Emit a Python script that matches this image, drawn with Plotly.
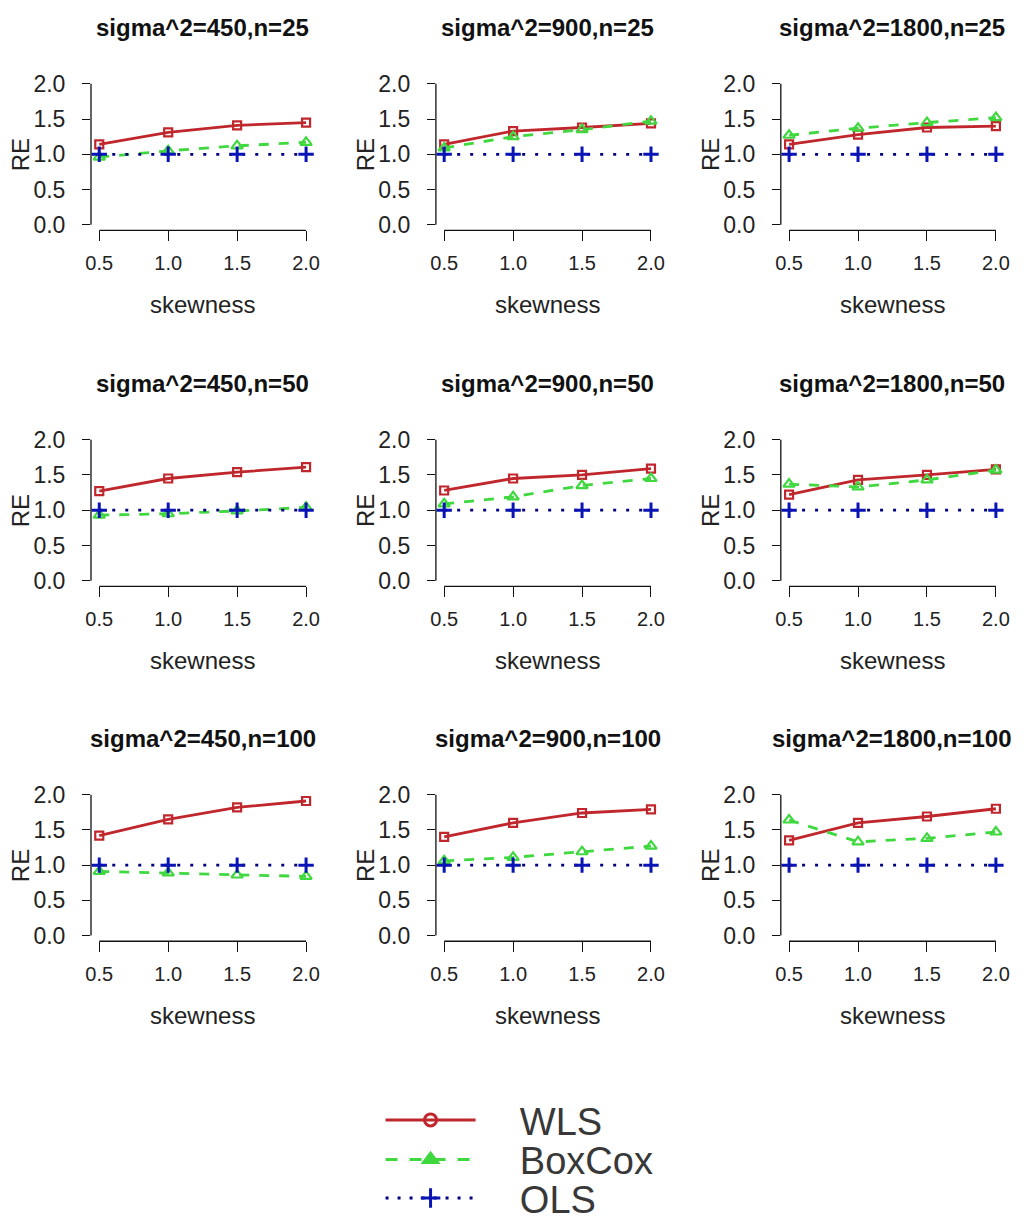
import plotly.graph_objects as go

# ---------------- data ----------------
skewness = [0.5, 1.0, 1.5, 2.0]
sigma2_levels = [450, 900, 1800]
n_levels = [25, 50, 100]
x_tick_labels = ["0.5", "1.0", "1.5", "2.0"]
y_tick_vals = [0.0, 0.5, 1.0, 1.5, 2.0]
y_tick_labels = ["0.0", "0.5", "1.0", "1.5", "2.0"]

# panels ordered row by row (n = 25, 50, 100), columns sigma^2 = 450, 900, 1800
wls_values = [
    [1.14, 1.31, 1.41, 1.45],
    [1.14, 1.33, 1.38, 1.44],
    [1.14, 1.28, 1.38, 1.40],
    [1.27, 1.45, 1.54, 1.61],
    [1.28, 1.45, 1.50, 1.59],
    [1.22, 1.43, 1.50, 1.58],
    [1.42, 1.65, 1.82, 1.91],
    [1.40, 1.60, 1.74, 1.79],
    [1.35, 1.60, 1.69, 1.80],
]
boxcox_values = [
    [0.96, 1.05, 1.12, 1.17],
    [1.09, 1.25, 1.35, 1.47],
    [1.27, 1.37, 1.45, 1.52],
    [0.93, 0.95, 0.99, 1.04],
    [1.09, 1.19, 1.35, 1.45],
    [1.37, 1.33, 1.43, 1.57],
    [0.91, 0.89, 0.86, 0.84],
    [1.06, 1.11, 1.19, 1.27],
    [1.64, 1.33, 1.38, 1.47],
]
ols_values = [
    [1.0, 1.0, 1.0, 1.0],
    [1.0, 1.0, 1.0, 1.0],
    [1.0, 1.0, 1.0, 1.0],
    [1.0, 1.0, 1.0, 1.0],
    [1.0, 1.0, 1.0, 1.0],
    [1.0, 1.0, 1.0, 1.0],
    [1.0, 1.0, 1.0, 1.0],
    [1.0, 1.0, 1.0, 1.0],
    [1.0, 1.0, 1.0, 1.0],
]
method_names = ["WLS", "BoxCox", "OLS"]

# ---------------- styling ----------------
W, H = 1024, 1232
FONT = "Liberation Sans, Arial, sans-serif"
col_left = [86, 435, 784]
row_top = [72, 432, 791]
PW, PH = 226, 154

RED = "#c0272d"
GREEN = "#3fd83f"
BLUE = "#0a14b4"
NAVY = "#000080"

fig = go.Figure()
layout = dict(
    width=W, height=H, margin=dict(l=0, r=0, t=0, b=0),
    paper_bgcolor="white", plot_bgcolor="white",
    font=dict(family=FONT, color="#111"),
    showlegend=True,
)
annotations = []
shapes = []

for r in range(3):
    for c in range(3):
        k = r * 3 + c
        sfx = "" if k == 0 else str(k + 1)
        xa, ya = "x" + sfx, "y" + sfx
        x0 = col_left[c] / W
        x1 = (col_left[c] + PW) / W
        y1 = 1 - row_top[r] / H
        y0 = 1 - (row_top[r] + PH) / H
        layout["xaxis" + sfx] = dict(
            domain=[x0, x1], range=[0.44, 2.06], anchor=ya,
            tickvals=skewness, ticktext=x_tick_labels,
            ticks="outside", ticklen=10, tickwidth=1.3, tickcolor="#111",
            showgrid=False, zeroline=False, showline=False,
            tickfont=dict(size=20, family=FONT, color="#222"),
            ticklabelstandoff=5, fixedrange=True,
        )
        layout["yaxis" + sfx] = dict(
            domain=[y0, y1], range=[-0.08, 2.08], anchor=xa,
            tickvals=y_tick_vals, ticktext=y_tick_labels,
            ticks="outside", ticklen=8, tickwidth=1.3, tickcolor="#111",
            showgrid=False, zeroline=False, showline=False,
            tickfont=dict(size=23, family=FONT, color="#222"),
            ticklabelstandoff=12, fixedrange=True,
        )
        # R-style axis lines spanning only the tick range
        shapes.append(dict(type="line", xref=xa, yref=ya + " domain",
                           x0=skewness[0], x1=skewness[-1], y0=0, y1=0,
                           line=dict(color="#111", width=1.3)))
        shapes.append(dict(type="line", xref=xa + " domain", yref=ya,
                           x0=0, x1=0, y0=y_tick_vals[0], y1=y_tick_vals[-1],
                           line=dict(color="#111", width=1.3)))

        fig.add_trace(go.Scatter(
            x=skewness, y=wls_values[k], xaxis=xa, yaxis=ya, mode="lines+markers",
            line=dict(color=RED, width=2.8),
            marker=dict(symbol="square-open", size=8, color=RED, line=dict(width=2.2, color=RED)),
            showlegend=False, cliponaxis=False, name=method_names[0]))
        fig.add_trace(go.Scatter(
            x=skewness, y=boxcox_values[k], xaxis=xa, yaxis=ya, mode="lines+markers",
            line=dict(color=GREEN, width=2.8, dash="10px,10px"),
            marker=dict(symbol="triangle-up-open", size=10, color=GREEN, line=dict(width=2.2, color=GREEN)),
            showlegend=False, cliponaxis=False, name=method_names[1]))
        fig.add_trace(go.Scatter(
            x=skewness, y=ols_values[k], xaxis=xa, yaxis=ya, mode="lines+markers",
            line=dict(color=NAVY, width=2.8, dash="3px,10px"),
            marker=dict(symbol="cross-thin-open", size=11, color=BLUE, line=dict(width=3, color=BLUE)),
            showlegend=False, cliponaxis=False, name=method_names[2]))

        annotations.append(dict(
            text="<b>sigma^2=%d,n=%d</b>" % (sigma2_levels[c], n_levels[r]),
            xref=xa + " domain", yref=ya + " domain", x=0.5, y=1,
            yshift=51, showarrow=False, xanchor="center", yanchor="middle",
            font=dict(size=24, family=FONT, color="#111"),
        ))
        annotations.append(dict(
            text="skewness", xref=xa + " domain", yref=ya + " domain", x=0.5, y=0,
            yshift=-74, showarrow=False, xanchor="center", yanchor="middle",
            font=dict(size=24, family=FONT, color="#222"),
        ))
        annotations.append(dict(
            text="RE", xref=xa + " domain", yref=ya + " domain", x=0, y=0.5,
            xshift=-71, showarrow=False, xanchor="center", yanchor="middle",
            textangle=-90, font=dict(size=24, family=FONT, color="#222"),
        ))

# legend-only entries, each in its own legend box so spacing can match
PAD = "\u00a0" * 3 + "\u2009"
legend_rows = [1126, 1166, 1205]
fig.add_trace(go.Scatter(
    x=[None], y=[None], mode="lines+markers", name=PAD + method_names[0], legend="legend",
    line=dict(color=RED, width=3),
    marker=dict(symbol="circle-open", size=12, color=RED, line=dict(width=3, color=RED))))
fig.add_trace(go.Scatter(
    x=[None], y=[None], mode="lines+markers", name=PAD + method_names[1], legend="legend2",
    line=dict(color=GREEN, width=3, dash="12px,12px"),
    marker=dict(symbol="triangle-up", size=14, color=GREEN, line=dict(width=2, color=GREEN))))
fig.add_trace(go.Scatter(
    x=[None], y=[None], mode="lines+markers", name=PAD + method_names[2], legend="legend3",
    line=dict(color=NAVY, width=3, dash="3px,9px"),
    marker=dict(symbol="cross-thin-open", size=14, color=BLUE, line=dict(width=3, color=BLUE))))

for i, key in enumerate(["legend", "legend2", "legend3"]):
    layout[key] = dict(
        x=379 / W, y=1 - legend_rows[i] / H, xanchor="left", yanchor="middle",
        font=dict(size=38, family=FONT, color="#383838"),
        itemwidth=90, bgcolor="rgba(0,0,0,0)",
    )
layout["annotations"] = annotations
layout["shapes"] = shapes
fig.update_layout(**layout)

fig.write_html("out.html")
